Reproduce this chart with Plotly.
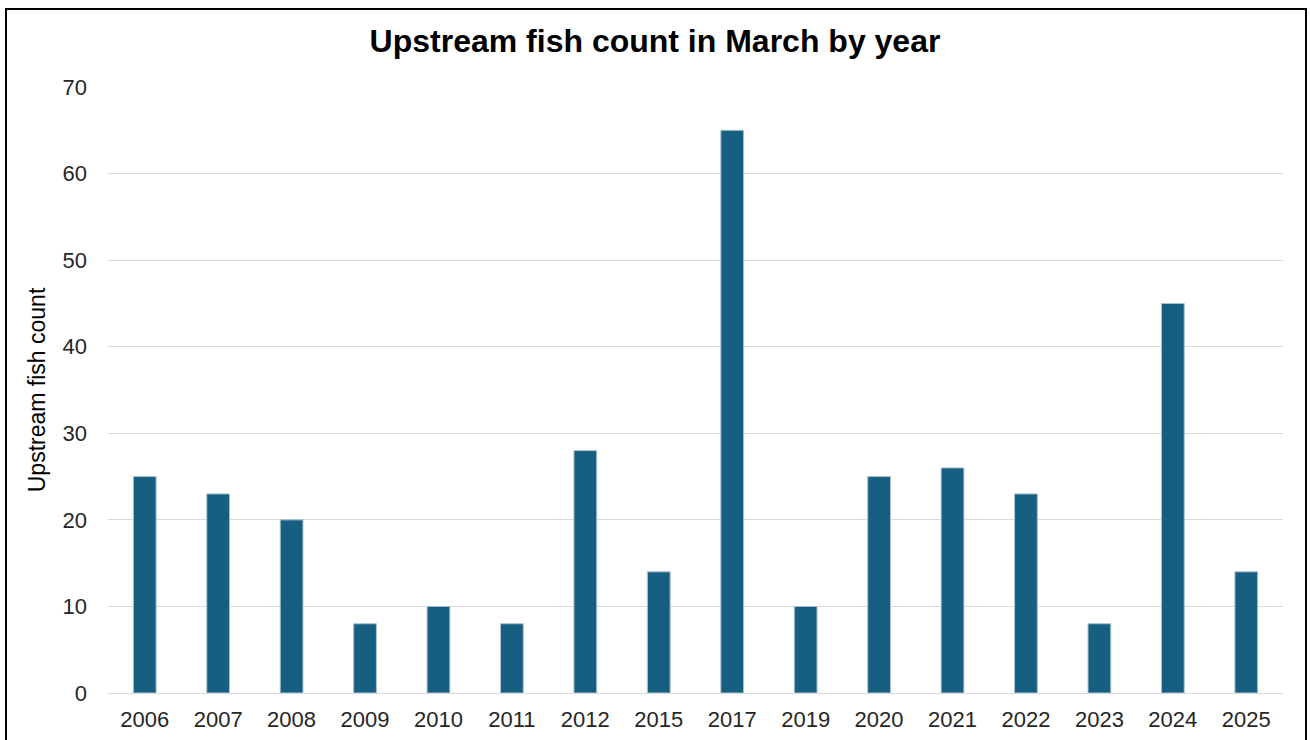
import plotly.graph_objects as go

years = ["2006", "2007", "2008", "2009", "2010", "2011", "2012", "2015",
         "2017", "2019", "2020", "2021", "2022", "2023", "2024", "2025"]
counts = [25, 23, 20, 8, 10, 8, 28, 14, 65, 10, 25, 26, 23, 8, 45, 14]
y_ticks = [0, 10, 20, 30, 40, 50, 60, 70]

title_text = "Upstream fish count in March by year"
y_title = "Upstream fish count"

fig = go.Figure(go.Bar(
    x=years, y=counts,
    marker=dict(color="#175F80", line=dict(color="#a9c2cf", width=1)),
    hoverinfo="x+y",
))

W, H = 1310, 740
L, R, T, B = 108, 27, 87, 47
pw, ph = W - L - R, H - T - B

def px_to_paper_x(px):
    return (px - L) / pw

def px_to_paper_y(py):
    return (H - B - py) / ph

fig.update_layout(
    width=W, height=H,
    margin=dict(l=L, r=R, t=T, b=B, pad=0, autoexpand=False),
    paper_bgcolor="white", plot_bgcolor="white",
    font=dict(family="Liberation Sans, Arial, sans-serif", color="#262626"),
    bargap=0.69,
    showlegend=False,
    title=dict(text=title_text, x=0.5, xref="container", xanchor="center",
               y=1 - 41 / H, yref="container", yanchor="middle",
               font=dict(size=32, color="#000000", weight="bold")),
    shapes=[dict(type="rect", xref="paper", yref="paper",
                 x0=px_to_paper_x(6), x1=px_to_paper_x(1306),
                 y0=px_to_paper_y(760), y1=px_to_paper_y(9),
                 line=dict(color="#000000", width=2), fillcolor="rgba(0,0,0,0)",
                 layer="above")],
)

fig.update_xaxes(type="category", showgrid=False, showline=False, ticks="",
                 automargin=False,
                 tickfont=dict(size=22, color="#262626"), ticklabelstandoff=11)
fig.update_yaxes(range=[0, 70], tickvals=y_ticks, showgrid=True,
                 automargin=False,
                 gridcolor="#d9d9d9", gridwidth=1, zeroline=True,
                 zerolinecolor="#d9d9d9", zerolinewidth=1, showline=False,
                 ticks="", tickfont=dict(size=22, color="#262626"),
                 ticklabelstandoff=20,
                 title=dict(text=y_title, font=dict(size=23, color="#000000"),
                            standoff=10))

fig.write_html("out.html", config={"displayModeBar": False},
               post_script="document.body.style.margin='0';document.body.style.padding='0';")
